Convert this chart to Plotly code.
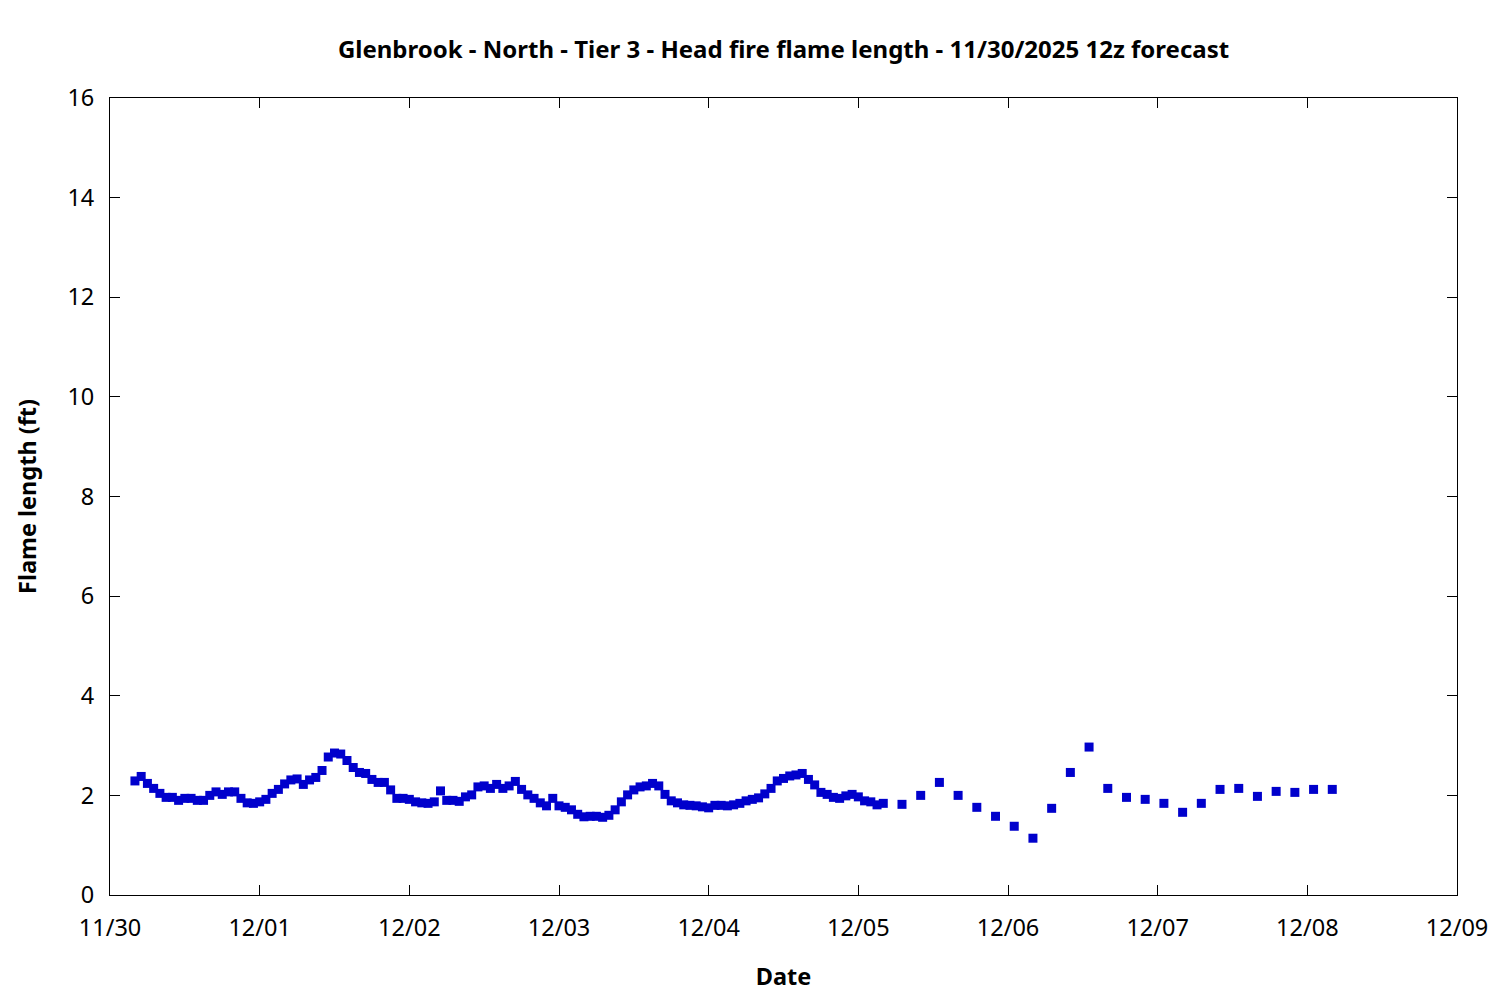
import pandas as pd
import plotly.graph_objects as go

# hourly forecast values, 11/30 04:00 through 12/05 04:00
hourly_start = '2025-11-30 04:00'
hourly_ft = [
    2.29, 2.38, 2.24, 2.14, 2.04, 1.96, 1.96, 1.90, 1.94, 1.94,
    1.90, 1.90, 2.00, 2.07, 2.02, 2.07, 2.07, 1.94, 1.85, 1.84,
    1.87, 1.92, 2.04, 2.12, 2.23, 2.31, 2.33, 2.22, 2.31, 2.36,
    2.50, 2.77, 2.85, 2.83, 2.70, 2.56, 2.46, 2.44, 2.32, 2.26,
    2.26, 2.11, 1.94, 1.94, 1.92, 1.87, 1.85, 1.84, 1.87, 2.09,
    1.90, 1.90, 1.88, 1.97, 2.01, 2.17, 2.19, 2.14, 2.22, 2.14,
    2.19, 2.28, 2.12, 2.01, 1.94, 1.85, 1.79, 1.94, 1.79, 1.76,
    1.71, 1.62, 1.57, 1.58, 1.58, 1.56, 1.60, 1.71, 1.87, 2.01,
    2.11, 2.17, 2.19, 2.24, 2.19, 2.02, 1.89, 1.85, 1.81, 1.80,
    1.79, 1.77, 1.75, 1.80, 1.80, 1.79, 1.81, 1.84, 1.89, 1.92,
    1.95, 2.03, 2.14, 2.29, 2.34, 2.39, 2.41, 2.44, 2.32, 2.21,
    2.06, 2.02, 1.96, 1.94, 1.99, 2.02, 1.97, 1.89, 1.87, 1.81,
    1.84,
]

# 3-hourly forecast values, 12/05 07:00 through 12/08 04:00
three_hourly_start = '2025-12-05 07:00'
three_hourly_ft = [
    1.82, 2.00, 2.26, 2.00, 1.76, 1.58, 1.38, 1.14, 1.74, 2.46,
    2.97, 2.14, 1.96, 1.92, 1.84, 1.66, 1.84, 2.12, 2.14, 1.98,
    2.08, 2.06, 2.12, 2.12,
]

x_range = ['2025-11-30', '2025-12-09']
y_ticks = [0, 2, 4, 6, 8, 10, 12, 14, 16]

times = list(pd.date_range(hourly_start, periods=len(hourly_ft), freq='h')) + \
        list(pd.date_range(three_hourly_start, periods=len(three_hourly_ft), freq='3h'))
values = hourly_ft + three_hourly_ft

fig = go.Figure(go.Scatter(
    x=times,
    y=values,
    mode='markers',
    marker=dict(symbol='square', size=9, color='#0000cc'),
    showlegend=False
))

font = dict(family='Noto Sans, Open Sans, sans-serif', size=23.5, color='black')

# page body adds an 8px offset, margins compensate for it
fig.update_layout(
    width=1500, height=1000,
    margin=dict(l=102, r=51, t=90, b=113),
    paper_bgcolor='white', plot_bgcolor='white',
    font=font,
    title=dict(
        text='<b>Glenbrook - North - Tier 3 - Head fire flame length - 11/30/2025 12z forecast</b>',
        x=0.5, xref='paper', xanchor='center',
        y=1 - 42 / 1000, yref='container', yanchor='middle',
        font=dict(size=24)
    )
)

fig.update_xaxes(
    range=x_range, type='date',
    dtick=86400000, tick0='2025-11-30', tickformat='%m/%d',
    showgrid=False, zeroline=False,
    showline=True, linecolor='black', linewidth=1, mirror='ticks',
    ticks='inside', ticklen=10, tickcolor='black',
    ticklabelstandoff=12,
    title=dict(text='<b>Date</b>', standoff=26, font=dict(size=23.5))
)
fig.update_yaxes(
    range=[0, 16], tickvals=y_ticks,
    showgrid=False, zeroline=False,
    showline=True, linecolor='black', linewidth=1, mirror='ticks',
    ticks='inside', ticklen=10, tickcolor='black',
    ticklabelstandoff=10,
    title=dict(text='<b>Flame length (ft)</b>', standoff=24, font=dict(size=23.5))
)

fig.write_html('out.html')
